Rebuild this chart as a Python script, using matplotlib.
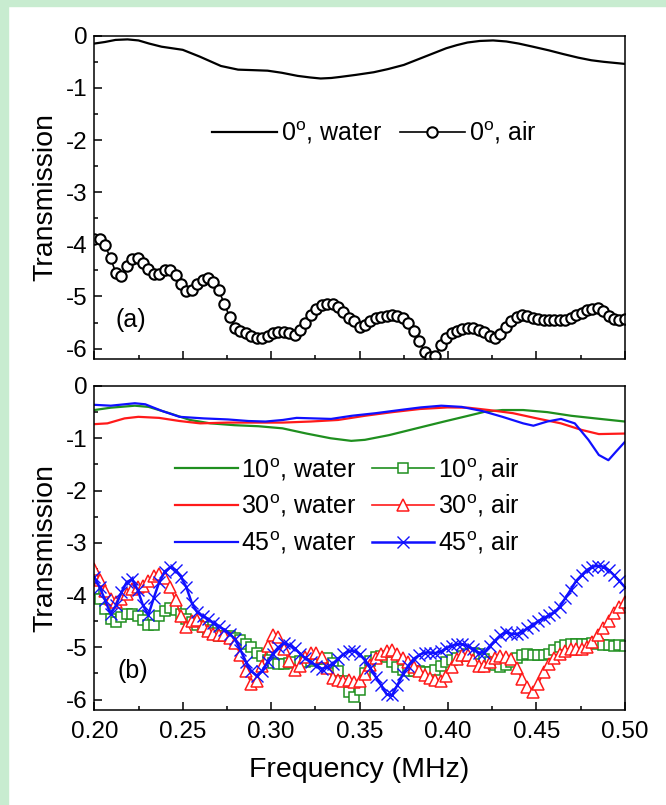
import numpy as np
import matplotlib
matplotlib.use('Agg')
import matplotlib.pyplot as plt
from matplotlib.ticker import MultipleLocator, FormatStrFormatter
from matplotlib.patches import Rectangle

plt.rcParams['font.family'] = ['Liberation Sans', 'DejaVu Sans']
plt.rcParams['mathtext.fontset'] = 'custom'
plt.rcParams['mathtext.rm'] = 'Liberation Sans'
plt.rcParams['axes.unicode_minus'] = False

# (a) 0 deg, water
f_w0 = [0.200, 0.206, 0.212, 0.2188, 0.225, 0.231, 0.238, 0.244, 0.250, 0.2596, 0.2716,
        0.2813, 0.290, 0.298, 0.306, 0.315, 0.322, 0.328, 0.334, 0.339, 0.348, 0.358,
        0.366, 0.375, 0.381, 0.387, 0.393, 0.399, 0.405, 0.411, 0.418, 0.4255, 0.433,
        0.440, 0.448, 0.457, 0.465, 0.4736, 0.481, 0.488, 0.494, 0.500]
t_w0 = [-0.15, -0.12, -0.08, -0.07, -0.09, -0.15, -0.21, -0.24, -0.27, -0.40, -0.58,
        -0.65, -0.66, -0.67, -0.71, -0.77, -0.80, -0.82, -0.81, -0.79, -0.75, -0.70,
        -0.64, -0.56, -0.48, -0.40, -0.32, -0.24, -0.18, -0.13, -0.10, -0.09, -0.11,
        -0.15, -0.21, -0.28, -0.35, -0.42, -0.47, -0.50, -0.52, -0.54]

# frequency grid of the air measurements (99 samples, 0.20 .. 0.50 MHz)
f_air = np.linspace(0.20, 0.50, 99)

t_a0 = [-3.90, -3.90, -4.02, -4.27, -4.55, -4.60, -4.41, -4.28, -4.27, -4.36,
        -4.47, -4.57, -4.56, -4.50, -4.50, -4.59, -4.76, -4.90, -4.88, -4.76,
        -4.68, -4.65, -4.73, -4.88, -5.14, -5.39, -5.60, -5.66, -5.70, -5.75,
        -5.80, -5.80, -5.75, -5.70, -5.68, -5.68, -5.70, -5.73, -5.64, -5.50,
        -5.36, -5.24, -5.17, -5.15, -5.15, -5.20, -5.29, -5.42,
        -5.48, -5.58, -5.55, -5.48, -5.42, -5.39, -5.37, -5.36, -5.37, -5.41,
        -5.50, -5.66, -5.85, -6.06, -6.16, -6.15, -5.94, -5.80, -5.70, -5.66,
        -5.62, -5.61, -5.61, -5.64, -5.68, -5.75, -5.79, -5.72, -5.58, -5.48,
        -5.39, -5.36, -5.37, -5.41, -5.44, -5.45, -5.46, -5.46, -5.46, -5.45,
        -5.41, -5.36, -5.31, -5.26, -5.24, -5.23, -5.28, -5.37, -5.43, -5.45, -5.43]

# (b) water curves
f_w10 = [0.200, 0.2093, 0.2229, 0.2307, 0.2424, 0.2541, 0.2657, 0.2793, 0.2929, 0.3064,
         0.3200, 0.3336, 0.3453, 0.3530, 0.3667, 0.3822, 0.3978, 0.4114, 0.4211, 0.4308,
         0.4425, 0.4561, 0.4697, 0.4833, 0.500]
t_w10 = [-0.46, -0.415, -0.377, -0.40, -0.52, -0.65, -0.715, -0.75, -0.77, -0.81,
         -0.91, -1.00, -1.05, -1.03, -0.94, -0.81, -0.68, -0.57, -0.49, -0.46,
         -0.46, -0.50, -0.57, -0.62, -0.68]

f_w30 = [0.200, 0.2074, 0.2171, 0.2249, 0.2366, 0.2482, 0.2599, 0.2755, 0.2910, 0.3066,
         0.3222, 0.3378, 0.3530, 0.3686, 0.3842, 0.3997, 0.4114, 0.4231, 0.4367, 0.4503,
         0.4639, 0.4755, 0.4853, 0.500]
t_w30 = [-0.73, -0.715, -0.62, -0.59, -0.61, -0.67, -0.715, -0.70, -0.70, -0.70,
         -0.68, -0.65, -0.57, -0.50, -0.44, -0.41, -0.415, -0.46, -0.52, -0.62,
         -0.715, -0.84, -0.92, -0.91]

f_w45 = [0.200, 0.2093, 0.2229, 0.2288, 0.2385, 0.2482, 0.2619, 0.2755, 0.2871, 0.2968,
         0.3066, 0.3144, 0.3241, 0.3339, 0.3456, 0.3592, 0.3728, 0.3845, 0.3962, 0.4078,
         0.4195, 0.4308, 0.4425, 0.4483, 0.4561, 0.4639, 0.4717, 0.4794, 0.4853, 0.4907,
         0.4949, 0.500]
t_w45 = [-0.36, -0.377, -0.33, -0.35, -0.48, -0.59, -0.62, -0.64, -0.67, -0.68,
         -0.65, -0.61, -0.62, -0.63, -0.57, -0.52, -0.46, -0.41, -0.377, -0.40,
         -0.48, -0.59, -0.715, -0.76, -0.68, -0.63, -0.715, -1.03, -1.32, -1.42,
         -1.26, -1.07]

# (b) air curves, one value per marker on f_air
t_a10 = [-3.89, -4.08, -4.27, -4.46, -4.52, -4.42, -4.37, -4.36, -4.41, -4.48,
         -4.57, -4.57, -4.40, -4.30, -4.25, -4.28, -4.37, -4.45, -4.51, -4.57,
         -4.62, -4.67, -4.73, -4.78, -4.78, -4.78, -4.82, -4.86, -4.94, -5.00,
         -5.10, -5.17, -5.24, -5.30, -5.32, -5.32, -5.30, -5.28, -5.27, -5.29,
         -5.26, -5.23, -5.22, -5.21, -5.30, -5.45, -5.65, -5.85, -5.96, -5.82,
         -5.50, -5.27, -5.18, -5.16, -5.18, -5.28, -5.38, -5.43, -5.45, -5.45,
         -5.46, -5.47, -5.48, -5.44, -5.36, -5.28, -5.25, -5.21, -5.16, -5.12,
         -5.10, -5.12, -5.22, -5.28, -5.34, -5.37, -5.34, -5.28, -5.20, -5.14,
         -5.13, -5.14, -5.15, -5.15, -5.12, -5.06, -5.00, -4.96, -4.94, -4.94,
         -4.94, -4.93, -4.92, -4.94, -4.95, -4.96, -4.97, -4.96, -4.97]

t_a30 = [-3.50, -3.72, -3.92, -4.08, -4.13, -4.08, -3.98, -3.89, -3.85, -3.82,
         -3.73, -3.64, -3.60, -3.68, -3.85, -4.10, -4.40, -4.62, -4.50, -4.48,
         -4.60, -4.68, -4.75, -4.76, -4.76, -4.82, -4.92, -5.15, -5.45, -5.70,
         -5.65, -5.35, -4.98, -4.76, -4.80, -5.03, -5.27, -5.44, -5.36, -5.19,
         -5.10, -5.10, -5.18, -5.40, -5.58, -5.63, -5.64, -5.62, -5.66, -5.65,
         -5.52, -5.33, -5.20, -5.13, -5.07, -5.06, -5.12, -5.21, -5.29, -5.38,
         -5.46, -5.53, -5.58, -5.62, -5.64, -5.55, -5.38, -5.22, -5.14, -5.15,
         -5.25, -5.36, -5.36, -5.28, -5.20, -5.16, -5.18, -5.22, -5.40, -5.61,
         -5.76, -5.86, -5.70, -5.48, -5.32, -5.20, -5.12, -5.07, -5.03, -5.03,
         -5.03, -5.00, -4.89, -4.76, -4.64, -4.50, -4.35, -4.23, -4.14]

t_a45 = [-3.66, -3.85, -4.10, -4.36, -4.20, -3.95, -3.75, -3.70, -3.90, -4.20,
         -4.38, -4.05, -3.75, -3.55, -3.47, -3.52, -3.65, -3.85, -4.15, -4.33,
         -4.40, -4.46, -4.53, -4.60, -4.66, -4.74, -4.85, -5.05, -5.28, -5.46,
         -5.54, -5.45, -5.28, -5.12, -5.00, -4.92, -4.96, -5.02, -5.12, -5.21,
         -5.28, -5.35, -5.41, -5.38, -5.32, -5.22, -5.13, -5.07, -5.07, -5.13,
         -5.25, -5.40, -5.57, -5.73, -5.90, -5.92, -5.72, -5.52, -5.35, -5.22,
         -5.15, -5.10, -5.10, -5.11, -5.08, -5.02, -4.97, -4.94, -4.94, -4.98,
         -5.04, -5.10, -5.10, -4.98, -4.87, -4.77, -4.71, -4.74, -4.75, -4.70,
         -4.64, -4.57, -4.50, -4.44, -4.39, -4.33, -4.22, -4.06, -3.90, -3.73,
         -3.62, -3.52, -3.46, -3.44, -3.46, -3.52, -3.62, -3.73, -3.85]

green = '#1f8f1f'
red = '#ff1a1a'
blue = '#1010ff'

fig = plt.figure(figsize=(6.66, 8.05), dpi=100)
# light green frame of the page (top and left)
fig.patches.append(Rectangle((0, 0), 0.012, 1, transform=fig.transFigure, color='#c8ecd0', zorder=-1))
fig.patches.append(Rectangle((0, 0.993), 1, 0.007, transform=fig.transFigure, color='#c8ecd0', zorder=-1))

ax1 = fig.add_axes([0.1416, 0.554, 0.7966, 0.4016])
ax2 = fig.add_axes([0.1416, 0.118, 0.7966, 0.4025])

for ax in (ax1, ax2):
    ax.set_xlim(0.20, 0.50)
    ax.set_ylim(-6.2, 0)
    ax.xaxis.set_major_locator(MultipleLocator(0.05))
    ax.xaxis.set_minor_locator(MultipleLocator(0.025))
    ax.yaxis.set_major_locator(MultipleLocator(1))
    ax.yaxis.set_minor_locator(MultipleLocator(0.5))
    ax.tick_params(which='both', direction='in', top=False, right=False, labelsize=17.5, width=1.1)
    ax.tick_params(which='major', length=5.5)
    ax.tick_params(which='minor', length=3)
    ax.tick_params(axis='x', pad=8)
    ax.tick_params(axis='y', pad=5)
    for s in ax.spines.values():
        s.set_linewidth(1.1)
    ax.set_ylabel('Transmission', fontsize=20.5, labelpad=5)

ax2.xaxis.set_major_formatter(FormatStrFormatter('%.2f'))
ax1.tick_params(labelbottom=False)

# panel (a)
ax1.plot(f_w0, t_w0, color='black', lw=1.6, label=r'0$^{\rm o}$, water')
ax1.plot(f_air, t_a0, color='black', lw=1.2, marker='o', ms=7.5, mfc='white', mec='black',
         mew=1.5, label=r'0$^{\rm o}$, air')
ax1.text(0.212, -5.45, '(a)', fontsize=18, va='center')
ax1.legend(loc='center', bbox_to_anchor=(0.528, 0.70), ncol=2, frameon=False, fontsize=18,
           handlelength=2.6, handletextpad=0.15, columnspacing=0.7)

# panel (b)
ax2.plot(f_w10, t_w10, color=green, lw=1.6, label=r'10$^{\rm o}$, water')
ax2.plot(f_w30, t_w30, color=red, lw=1.6, label=r'30$^{\rm o}$, water')
ax2.plot(f_w45, t_w45, color=blue, lw=1.6, label=r'45$^{\rm o}$, water')
ax2.plot(f_air, t_a10, color=green, lw=1.2, marker='s', ms=6.5, mfc='white', mec=green,
         mew=1.1, label=r'10$^{\rm o}$, air')
ax2.plot(f_air, t_a30, color=red, lw=1.2, marker='^', ms=8, mfc='white', mec=red,
         mew=1.1, label=r'30$^{\rm o}$, air')
ax2.plot(f_air, t_a45, color=blue, lw=1.8, marker='x', ms=8, mec=blue,
         mew=1.0, label=r'45$^{\rm o}$, air')
ax2.text(0.213, -5.45, '(b)', fontsize=18, va='center')
ax2.legend(loc='center', bbox_to_anchor=(0.477, 0.63), ncol=2, frameon=False, fontsize=18,
           handlelength=2.5, handletextpad=0.15, columnspacing=0.6, labelspacing=0.4)
ax2.set_xlabel('Frequency (MHz)', fontsize=20.5, labelpad=10)

fig.savefig('out.png', dpi=100)
